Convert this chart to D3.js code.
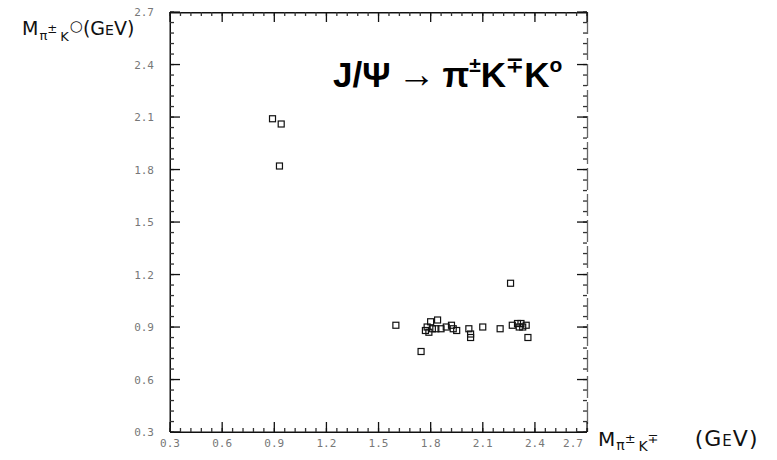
<!DOCTYPE html>
<html>
<head>
<meta charset="utf-8">
<script src="https://cdn.jsdelivr.net/npm/d3@7"></script>
<style>
  body { margin: 0; background: #fff; }
  svg { display: block; }
  .lbl { font-family: "DejaVu Sans Mono", monospace; font-size: 11px; fill: #777; }
</style>
</head>
<body>
<svg id="chart" width="777" height="460"></svg>
<script>
// Scatter of J/psi -> pi K K0 events: M(pi K) vs M(pi K0), masses in GeV
const massPiK = [0.89, 0.94, 0.93, 1.60, 1.745, 1.77, 1.78, 1.79, 1.80, 1.81, 1.83, 1.84, 1.86,
                 1.89, 1.92, 1.93, 1.95, 2.02, 2.03, 2.03, 2.10, 2.20, 2.26, 2.27, 2.30, 2.31,
                 2.32, 2.33, 2.35, 2.36];
const massPiK0 = [2.09, 2.06, 1.82, 0.91, 0.76, 0.88, 0.90, 0.87, 0.93, 0.89, 0.89, 0.94, 0.89,
                  0.90, 0.91, 0.89, 0.88, 0.89, 0.84, 0.86, 0.90, 0.89, 1.15, 0.91, 0.92, 0.90,
                  0.92, 0.90, 0.91, 0.84];
const majorTicks = [0.3, 0.6, 0.9, 1.2, 1.5, 1.8, 2.1, 2.4, 2.7];
const minorTicks = d3.range(0, 41).map(i => +(0.3 + i * 0.06).toFixed(2));

const svg = d3.select("#chart");
const x = d3.scaleLinear().domain([0.3, 2.7]).range([170, 587]);
const y = d3.scaleLinear().domain([0.3, 2.7]).range([432, 12]);
const fmt = d3.format(".1f");
const pL = x.range()[0], pR = x.range()[1], pB = y.range()[0], pT = y.range()[1];

// frame
svg.append("rect").attr("x", pL).attr("y", pT).attr("width", pR - pL).attr("height", 1.5).attr("fill", "#111");
svg.append("rect").attr("x", pL).attr("y", pB - 0.5).attr("width", pR - pL).attr("height", 1.5).attr("fill", "#111");
svg.append("rect").attr("x", pL - 0.5).attr("y", pT).attr("width", 1.5).attr("height", pB - pT).attr("fill", "#111");
svg.append("line").attr("x1", pR + 0.5).attr("x2", pR + 0.5).attr("y1", pT).attr("y2", pB)
  .attr("stroke", "#666").attr("stroke-width", 1.3).attr("stroke-dasharray", "22,4");

// inward tick marks as thin filled bars on all four sides
function drawTicks(values, len, color) {
  const g = svg.append("g").attr("fill", color);
  g.selectAll(".b").data(values).join("rect").attr("class", "b")
    .attr("x", d => x(d) - 0.6).attr("y", pB - len).attr("width", 1.3).attr("height", len);
  g.selectAll(".t").data(values).join("rect").attr("class", "t")
    .attr("x", d => x(d) - 0.6).attr("y", pT).attr("width", 1.3).attr("height", len);
  g.selectAll(".l").data(values).join("rect").attr("class", "l")
    .attr("x", pL).attr("y", d => y(d) - 0.6).attr("width", len).attr("height", 1.3);
  g.selectAll(".r").data(values).join("rect").attr("class", "r")
    .attr("x", pR - len).attr("y", d => y(d) - 0.6).attr("width", len).attr("height", 1.3);
}
drawTicks(minorTicks, 4, "#333");
drawTicks(majorTicks, 10, "#111");

// tick labels
svg.append("g").selectAll("text").data(majorTicks).join("text")
  .attr("class", "lbl").attr("text-anchor", "middle")
  .attr("x", d => x(d) - (d === 2.7 ? 14 : 0)).attr("y", pB + 15)
  .text(fmt);
svg.append("g").selectAll("text").data(majorTicks).join("text")
  .attr("class", "lbl").attr("text-anchor", "end")
  .attr("x", pL - 16).attr("y", d => y(d) + 4)
  .text(fmt);

// y-axis label at top left
const yl = svg.append("text").attr("x", 22).attr("y", 35)
  .attr("font-family", "'DejaVu Sans', sans-serif").attr("font-size", 19).attr("fill", "#111");
yl.append("tspan").text("M");
yl.append("tspan").attr("font-size", 13).attr("dy", 5).attr("dx", 1).text("π");
yl.append("tspan").attr("font-size", 12).attr("dy", -7).text("±");
yl.append("tspan").attr("font-size", 13).attr("dy", 8).attr("dx", 3).text("K");
yl.append("tspan").attr("font-size", 15).attr("dy", -10).attr("dx", 1).text("○");
yl.append("tspan").attr("font-size", 19).attr("dy", 4).text("(G");
yl.append("tspan").attr("font-size", 14).text("E");
yl.append("tspan").attr("font-size", 19).text("V)");

// x-axis label at bottom right
const xl = svg.append("text").attr("x", 598).attr("y", 446)
  .attr("font-family", "'DejaVu Sans', sans-serif").attr("font-size", 20).attr("fill", "#111");
xl.append("tspan").text("M");
xl.append("tspan").attr("font-size", 14).attr("dy", 4).attr("dx", 1).text("π");
xl.append("tspan").attr("font-size", 13).attr("dy", -7).text("±");
xl.append("tspan").attr("font-size", 14).attr("dy", 8).attr("dx", 3).text("K");
xl.append("tspan").attr("font-size", 13).attr("dy", -8).text("∓");
xl.append("tspan").attr("font-size", 22).attr("dy", 3).attr("dx", 36).attr("letter-spacing", 1).text("(G");
xl.append("tspan").attr("font-size", 15).attr("letter-spacing", 1).text("E");
xl.append("tspan").attr("font-size", 22).attr("letter-spacing", 1).text("V)");

// reaction title
const title = svg.append("text").attr("x", 333).attr("y", 87)
  .attr("font-family", "'Liberation Sans', Arial, sans-serif").attr("font-weight", "bold")
  .attr("font-size", 35).attr("fill", "#000");
title.append("tspan").text("J/Ψ");
title.append("tspan").attr("dx", 7).attr("font-size", 38).text("→");
title.append("tspan").attr("dx", 7).text("π");
title.append("tspan").attr("font-size", 21).attr("dy", -15).text("±");
title.append("tspan").attr("dy", 15).text("K");
title.append("tspan").attr("font-size", 21).attr("dy", -15).text("∓");
title.append("tspan").attr("dy", 15).text("K");
title.append("tspan").attr("font-size", 21).attr("dy", -15).text("o");

// event markers
const pts = massPiK.map((v, i) => ({ mx: v, my: massPiK0[i] }));
svg.append("g").selectAll(".ev").data(pts).join("rect").attr("class", "ev")
  .attr("x", d => x(d.mx) - 3).attr("y", d => y(d.my) - 3)
  .attr("width", 6).attr("height", 6)
  .attr("fill", "none").attr("stroke", "#111").attr("stroke-width", 1.2);
</script>
</body>
</html>
